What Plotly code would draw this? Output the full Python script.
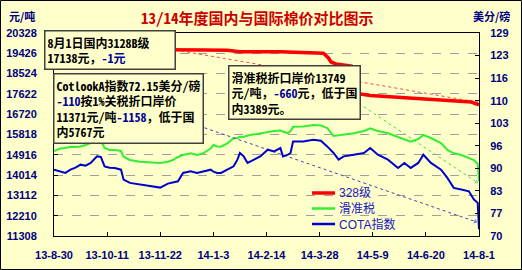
import plotly.graph_objects as go

# ---------------- data ----------------
dates = ["2013-08-30","2013-09-04","2013-09-08","2013-09-12","2013-09-16","2013-09-20","2013-09-24","2013-09-28","2013-10-03","2013-10-06",
         "2013-10-09","2013-10-13","2013-10-17","2013-10-22","2013-10-24","2013-10-29","2013-11-06","2013-11-14","2013-11-22","2013-11-28",
         "2013-12-02","2013-12-06","2013-12-10","2013-12-16","2013-12-21","2013-12-26","2014-01-01","2014-01-03","2014-01-06","2014-01-09",
         "2014-01-14","2014-01-19","2014-01-22","2014-01-24","2014-01-27","2014-01-30","2014-02-01","2014-02-04","2014-02-09","2014-02-15",
         "2014-02-20","2014-02-25","2014-02-27","2014-03-03","2014-03-05","2014-03-07","2014-03-15","2014-03-23","2014-03-29","2014-04-03",
         "2014-04-08","2014-04-12","2014-04-16","2014-04-24","2014-05-02","2014-05-07","2014-05-13","2014-05-21","2014-05-29","2014-06-03",
         "2014-06-08","2014-06-14","2014-06-18","2014-06-24","2014-07-02","2014-07-07","2014-07-12","2014-07-18","2014-07-24","2014-07-28",
         "2014-07-31","2014-08-01"]

huazhun = [15085,15196,15219,15276,15263,15285,15352,15441,15507,15552,
           15219,15130,15130,15085,14832,14685,14610,14565,14552,14610,
           14685,14819,14908,14983,14908,14983,15205,15352,15285,15276,
           15427,15650,15663,15721,15707,15774,15796,15796,15872,15943,
           15974,15996,15943,15872,15974,16165,16174,16240,16218,16107,
           15752,15774,15796,15872,15974,16094,15974,15872,15707,15618,
           15498,15618,15796,15663,15441,15130,14983,14908,14761,14685,
           14508,13749]

cota = [89.48,88.99,88.53,89.48,90.06,90.93,90.64,91.43,93.34,93.17,
        90.44,90.06,89.98,89.48,86.58,85.63,85.14,84.64,84.27,85.43,
        85.71,86.09,88.53,88.99,88.53,88.90,89.48,88.90,88.53,88.53,
        89.48,90.44,92.38,94.33,93.34,91.43,91.80,92.38,93.34,95.28,
        94.79,95.77,93.34,93.83,94.33,97.69,97.69,98.18,97.89,96.24,
        94.33,92.38,93.34,93.83,94.33,95.77,93.83,92.38,89.98,91.43,
        89.98,91.43,93.83,91.43,89.48,87.08,84.18,83.69,83.19,80.79,
        79.83,72.15]

red_dates = ["2013-08-30","2013-10-15","2013-12-04","2013-12-26","2014-01-14","2014-01-24","2014-02-25","2014-03-13",
             "2014-03-31","2014-04-04","2014-04-06","2014-04-10","2014-04-22","2014-04-24","2014-04-27","2014-04-29",
             "2014-05-07","2014-05-21","2014-06-16","2014-07-12","2014-07-26","2014-08-01"]
grade328 = [19620,19615,19604,19573,19560,19500,19497,19462,
            19426,19217,19040,18951,18862,18240,17884,17618,
            17551,17498,17396,17320,17262,17138]

series_names = ["328级", "滑准税", "COTA指数"]

x_tickvals = ["2013-08-30","2013-10-11","2013-11-22","2014-01-03","2014-02-14","2014-03-28","2014-05-09","2014-06-20","2014-08-01"]
x_ticktext = ["13-8-30","13-10-11","13-11-22","14-1-3","14-2-14","14-3-28","14-5-9","14-6-20","14-8-1"]

left_ticks = [11308,12210,13112,14014,14916,15818,16720,17622,18524,19426,20328]
right_min, right_max = 70.2, 129.2
right_ticktext = ["70","77","83","90","96","103","110","116","123","129"]

# callout connector anchors (callout side -> series end)
red_conn = (["2013-12-04","2014-07-30"], [19573, 17262])
green_conn = (["2014-04-24","2014-07-30"], [17351, 13708])
blue_conn = (["2013-12-27","2014-07-29"], [101.66, 74.41])

BG = "#FFFFCC"
NAVY = "#000080"
RED = "#FF0000"
GREEN = "#33EE33"
BLUE = "#0000CC"
colors = [RED, GREEN, BLUE]
widths = [3.5, 2, 2]

fig = go.Figure()

# connectors
for (cx, cy), col, ax in [(red_conn, "#FF4444", "y"), (green_conn, "#44DD44", "y"), (blue_conn, "#4444AA", "y2")]:
    fig.add_trace(go.Scatter(x=cx, y=cy, mode="lines+markers", yaxis=ax, showlegend=False, hoverinfo="skip",
                             line=dict(color=col, width=1, dash="dot"),
                             marker=dict(symbol=["circle", "triangle-up"], size=[0, 6], angleref="previous", color=col)))

fig.add_trace(go.Scatter(x=red_dates, y=grade328, name=series_names[0], mode="lines",
                         line=dict(color=colors[0], width=widths[0])))
fig.add_trace(go.Scatter(x=dates, y=huazhun, name=series_names[1], mode="lines",
                         line=dict(color=colors[1], width=widths[1])))
fig.add_trace(go.Scatter(x=dates, y=cota, name=series_names[2], mode="lines", yaxis="y2",
                         line=dict(color=colors[2], width=widths[2])))

tickfont = dict(family="Liberation Sans", size=11, color=NAVY, weight="bold")

n_r = len(right_ticktext)
right_tickvals = [right_min + i * (right_max - right_min) / (n_r - 1) for i in range(n_r)]

fig.update_layout(
    width=522, height=270,
    margin=dict(l=54, r=43, t=33, b=34),
    paper_bgcolor=BG, plot_bgcolor=BG,
    showlegend=False,
    xaxis=dict(type="date", range=["2013-08-30", "2014-08-01"], tickvals=x_tickvals, ticktext=x_ticktext,
               ticks="inside", ticklen=4, tickcolor="black", showgrid=False, showline=True, linecolor="black",
               linewidth=1, mirror=True, tickfont=tickfont, zeroline=False, tickangle=0,
               ticklabelstandoff=9, automargin=False),
    yaxis=dict(range=[11308, 20328], tickvals=left_ticks, ticktext=[str(v) for v in left_ticks],
               ticks="inside", ticklen=4, tickcolor="black",
               showgrid=True, gridcolor="#A0A0A0", griddash="dash", gridwidth=1,
               showline=True, linecolor="black", linewidth=1, tickfont=tickfont, zeroline=False,
               ticklabelstandoff=14, automargin=False),
    yaxis2=dict(range=[right_min, right_max], tickvals=right_tickvals, ticktext=right_ticktext,
                overlaying="y", side="right", ticks="inside", ticklen=4, tickcolor="black",
                showgrid=False, showline=True, linecolor="black", linewidth=1, tickfont=tickfont,
                zeroline=False, ticklabelstandoff=8, automargin=False),
)

def pxx(px):
    return (px - 54) / 425.0

def pxy(py):
    return (236 - py) / 203.0

# manual legend (compact rows like the original)
for i, (nm, col, w) in enumerate(zip(series_names, colors, widths)):
    yy = pxy(193 + i * 15.5)
    fig.add_shape(type="line", xref="paper", yref="paper", x0=pxx(312), x1=pxx(335), y0=yy, y1=yy,
                  line=dict(color=col, width=max(w, 2.5)))
    fig.add_annotation(xref="paper", yref="paper", x=pxx(337), y=yy, xanchor="left", yanchor="middle",
                       text=nm, showarrow=False,
                       font=dict(family="Liberation Sans, Noto Sans CJK SC", size=12, color="#2020C0"))

blue_span = lambda s: "<span style='color:#000099'>" + s + "</span>"
CJK_MONO = "Noto Sans Mono CJK SC, Noto Sans CJK SC"
box_font = dict(family=CJK_MONO, size=12, color="black", weight="bold")

callouts = [
    (44, 30, 125, "8月1日国内3128B级<br>17138元，" + blue_span("-1元")),
    (53, 73, None, "CotlookA指数72.15美分/磅<br>" + blue_span("-110") + "按1%关税折口岸价<br>11371元/吨" + blue_span("-1158") + "，低于国<br>内5767元"),
    (228, 65, None, "滑准税折口岸价13749<br>元/吨，" + blue_span("-660") + "元，低于国<br>内3389元。"),
]
for bx, by, bw, txt in callouts:
    fig.add_annotation(xref="paper", yref="paper", x=pxx(bx), y=pxy(by), xanchor="left", yanchor="top",
                       text=txt, showarrow=False, align="left", font=box_font, width=bw,
                       bgcolor=BG, bordercolor="#404040", borderwidth=1.5, borderpad=2)

# title & units
fig.add_annotation(xref="paper", yref="paper", x=pxx(257), y=pxy(17), xanchor="center", yanchor="middle",
                   text="13/14年度国内与国际棉价对比图示", showarrow=False,
                   font=dict(family=CJK_MONO, size=15, color="#CC0000", weight="bold"))
fig.add_annotation(xref="paper", yref="paper", x=pxx(7), y=pxy(16), xanchor="left", yanchor="middle",
                   text="元/吨", showarrow=False,
                   font=dict(family="Noto Sans CJK SC", size=11, color=NAVY, weight="bold"))
fig.add_annotation(xref="paper", yref="paper", x=pxx(512), y=pxy(16), xanchor="right", yanchor="middle",
                   text="美分/磅", showarrow=False,
                   font=dict(family="Noto Sans CJK SC", size=11, color=NAVY, weight="bold"))

# outer frame
fig.add_shape(type="rect", xref="paper", yref="paper", x0=pxx(0.5), x1=pxx(521.5), y0=pxy(269.5), y1=pxy(0.5),
              line=dict(color="black", width=1), fillcolor="rgba(0,0,0,0)", layer="above")

fig.write_html("out.html")
